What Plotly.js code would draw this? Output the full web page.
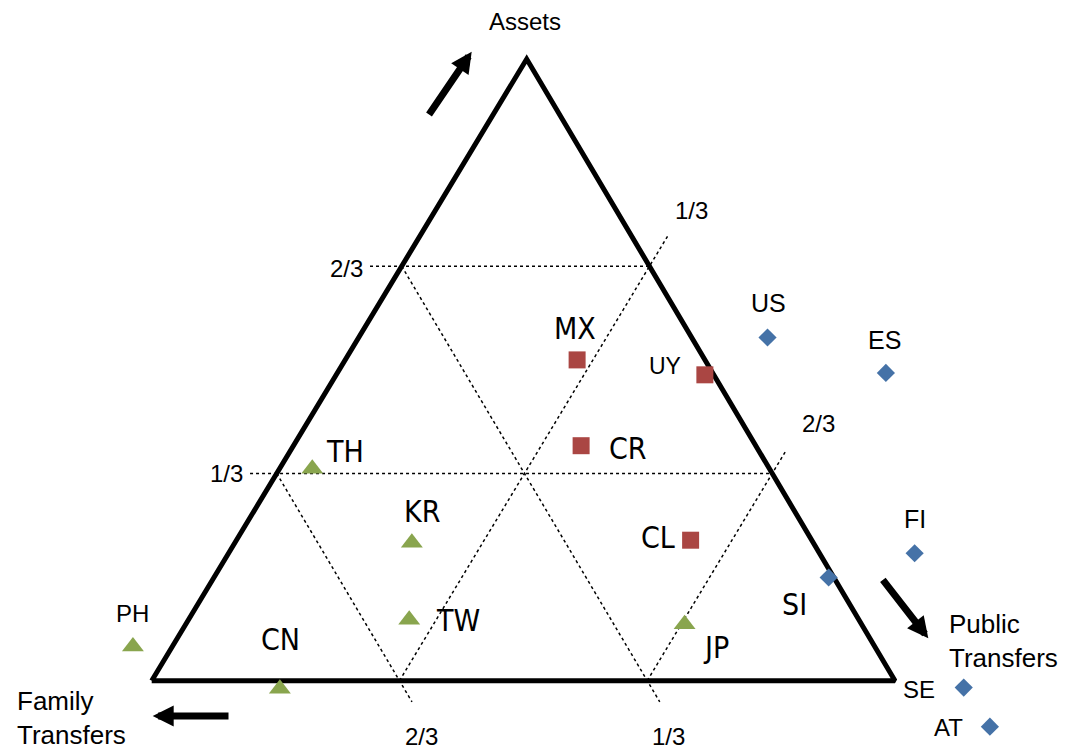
<!DOCTYPE html>
<html><head><meta charset="utf-8">
<script src="https://cdn.plot.ly/plotly-3.0.1.min.js"></script>
<style>html,body{margin:0;padding:0;background:#fff}#chart{width:1067px;height:751px}</style>
</head><body><div id="chart"></div>
<script>
// ---- Data: share of consumption financed by assets and by public transfers
// (family transfers = 1 - assets - public; negative values fall outside the triangle)
const blueCountries = ['US','ES','FI','SI','SE','AT'];
const blueAssets    = [0.552, 0.495, 0.205, 0.166, -0.011, -0.074];
const bluePublic    = [0.550, 0.738, 0.923, 0.827, 1.098, 1.165];

const redCountries  = ['MX','UY','CR','CL'];
const redAssets     = [0.516, 0.492, 0.378, 0.226];
const redPublic     = [0.312, 0.496, 0.387, 0.611];

const greenCountries = ['TH','KR','TW','CN','PH','JP'];
const greenAssets    = [0.341, 0.222, 0.098, -0.013, 0.055, 0.091];
const greenPublic    = [0.044, 0.238, 0.297, 0.179, -0.053, 0.671];

const gridFractions = [1/3, 2/3];
const gridLabels    = ['1/3', '2/3'];

// ---- Geometry (layout only)
const APEX_X = 0.5045;                 // horizontal position of the Assets vertex
const toX = (a, p) => p + a * APEX_X;  // ternary -> cartesian
const W = 1067, H = 751;
const PX = v => v / W, PY = v => 1 - v / H;

const ARIAL = 'Liberation Sans, Arial, sans-serif';
const NARROW = 'DejaVu Sans Condensed, Liberation Sans Narrow, Arial Narrow, Liberation Sans, sans-serif';

// label styling / offsets (pixels, dx right, dy down)
const labelStyle = {
  US:{dx:1,dy:-35,f:ARIAL,s:25}, ES:{dx:-1,dy:-33,f:ARIAL,s:25}, FI:{dx:0,dy:-34,f:ARIAL,s:25},
  SI:{dx:-34,dy:27,f:NARROW,s:30}, SE:{dx:-45,dy:2,f:ARIAL,s:24}, AT:{dx:-41,dy:1,f:ARIAL,s:24},
  MX:{dx:-2,dy:-31,f:NARROW,s:30}, UY:{dx:-40,dy:-9,f:ARIAL,s:23}, CR:{dx:47,dy:3,f:NARROW,s:30},
  CL:{dx:-33,dy:-3,f:NARROW,s:30}, TH:{dx:33,dy:-17,f:NARROW,s:30}, KR:{dx:10,dy:-31,f:NARROW,s:30},
  TW:{dx:49,dy:1,f:NARROW,s:30}, CN:{dx:1,dy:-49,f:NARROW,s:30}, PH:{dx:0,dy:-33,f:ARIAL,s:24},
  JP:{dx:31,dy:23,f:NARROW,s:30}
};

const traces = [];
const dotLine = {color:'#000', width:1.5, dash:'dot'};
function seg(a1,p1,a2,p2){
  traces.push({type:'scatter', mode:'lines', x:[toX(a1,p1),toX(a2,p2)], y:[a1,a2],
    line:dotLine, hoverinfo:'skip', showlegend:false});
}
// horizontal (assets constant) lines, extended to the left toward their labels
const leftExt = [0.1323, 0.2937];  // cartesian x where the dotted lines start
gridFractions.forEach((a,i)=>{
  traces.push({type:'scatter', mode:'lines', x:[leftExt[i], 1 - a*(1-APEX_X)], y:[a,a],
    line:dotLine, hoverinfo:'skip', showlegend:false});
});
// public constant lines (parallel to left edge), extended beyond the right edge
const pEnd = [0.7185, 0.3679];
gridFractions.forEach((p,i)=> seg(0,p,pEnd[i],p));
// family constant lines (parallel to right edge), extended below the base
gridFractions.forEach(f=> seg(1-f, 0, -0.034, 1 - f + 0.034));

// triangle
traces.push({type:'scatter', mode:'lines', x:[0,1,APEX_X,0], y:[0,0,1,0],
  line:{color:'#000', width:5}, hoverinfo:'skip', showlegend:false});

function series(names, A, P, symbol, color, size){
  traces.push({type:'scatter', mode:'markers', name:symbol,
    x:A.map((a,i)=>toX(a,P[i])), y:A, text:names,
    marker:{symbol:symbol, color:color, size:size, line:{width:0}},
    hovertemplate:'%{text}<extra></extra>', showlegend:false});
}
series(blueCountries, blueAssets, bluePublic, 'diamond', '#4572A7', 14);
series(redCountries, redAssets, redPublic, 'square', '#AA4643', 17);
series(greenCountries, greenAssets, greenPublic, 'triangle-up', '#89A54E', 19);

const annotations = [];
function countryLabels(names, A, P){
  names.forEach((n,i)=>{
    const st = labelStyle[n];
    annotations.push({x:toX(A[i],P[i]), y:A[i], xref:'x', yref:'y', text:n, showarrow:false,
      xanchor:'center', yanchor:'middle', xshift:st.dx, yshift:-st.dy,
      font:{family:st.f, size:st.s, color:'#000'}});
  });
}
countryLabels(blueCountries, blueAssets, bluePublic);
countryLabels(redCountries, redAssets, redPublic);
countryLabels(greenCountries, greenAssets, greenPublic);

function txt(t, px, py, anchor, size){
  annotations.push({x:PX(px), y:PY(py), xref:'paper', yref:'paper', text:t, showarrow:false,
    xanchor:anchor||'center', yanchor:'middle', align:'left',
    font:{family:ARIAL, size:size||24, color:'#000'}});
}
// grid labels
txt(gridLabels[0], 691, 210);   // public 1/3
txt(gridLabels[1], 818, 423);   // public 2/3
txt(gridLabels[1], 346, 268);   // assets 2/3
txt(gridLabels[0], 226, 473);   // assets 1/3
txt(gridLabels[1], 421, 736);   // family 2/3
txt(gridLabels[0], 668, 736);   // family 1/3
// axis names
txt('Assets', 525, 21);
txt('Public<br>Transfers', 947, 641, 'left', 26);
txt('Family<br>Transfers', 15, 718, 'left', 26);

function arrow(tipX, tipY, tailX, tailY){
  annotations.push({x:PX(tipX), y:PY(tipY), xref:'paper', yref:'paper', text:'',
    showarrow:true, arrowhead:2, arrowsize:0.6, arrowwidth:7, arrowcolor:'#000',
    ax:tailX-tipX, ay:tailY-tipY});
}
arrow(471.7, 51.7, 428, 116);
arrow(928.3, 638.3, 881.7, 578.3);
arrow(152.7, 716, 230, 716);

const layout = {
  width:W, height:H, margin:{l:0,r:0,t:0,b:0},
  paper_bgcolor:'#fff', plot_bgcolor:'#fff',
  xaxis:{range:[-151.7/743.3, (W-151.7)/743.3], visible:false, fixedrange:true},
  yaxis:{range:[(680.7-H)/621.7, 680.7/621.7], visible:false, fixedrange:true},
  annotations:annotations, showlegend:false
};
Plotly.newPlot('chart', traces, layout, {displayModeBar:false, staticPlot:true});
</script>
</body></html>
